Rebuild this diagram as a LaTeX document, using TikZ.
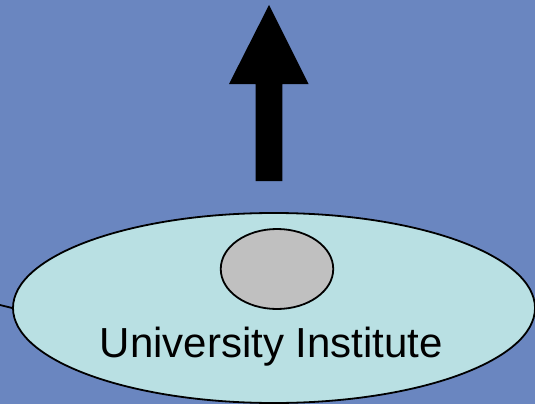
\documentclass[tikz,border=0pt]{standalone}
\usepackage{fontspec}
\setmainfont{Liberation Sans}
\usetikzlibrary{shapes.geometric}
\definecolor{bgblue}{HTML}{6A86C0}
\definecolor{lightcyan}{HTML}{B9E0E3}
\definecolor{greyfill}{HTML}{C0C0C0}
\begin{document}
\begin{tikzpicture}[x=1pt,y=-1pt,
  outline/.style={draw=black,line width=1.8pt},
  label/.style={font=\fontsize{42}{48}\selectfont,anchor=base,inner sep=0pt}]
\fill[bgblue] (0,0) rectangle (535,404);
\useasboundingbox (0,0) rectangle (535,404);
% arrow
\fill[black] (269,5) -- (308.5,84) -- (282.3,84) -- (282.3,181) -- (255.7,181) -- (255.7,84) -- (229,84) -- cycle;
% left line
\coordinate (lend) at (0,305);
\node[outline,fill=lightcyan,ellipse,minimum width=522pt,minimum height=190pt,inner sep=0pt] (inst) at (274,308) {};
\draw[line width=1.8pt] (lend) -- (inst.west);
\node[outline,fill=greyfill,ellipse,minimum width=112.5pt,minimum height=80pt,inner sep=0pt] (core) at (277,269) {};
\node[label] (txt) at (271.5,357.7) {University Institute};
\end{tikzpicture}
\end{document}
